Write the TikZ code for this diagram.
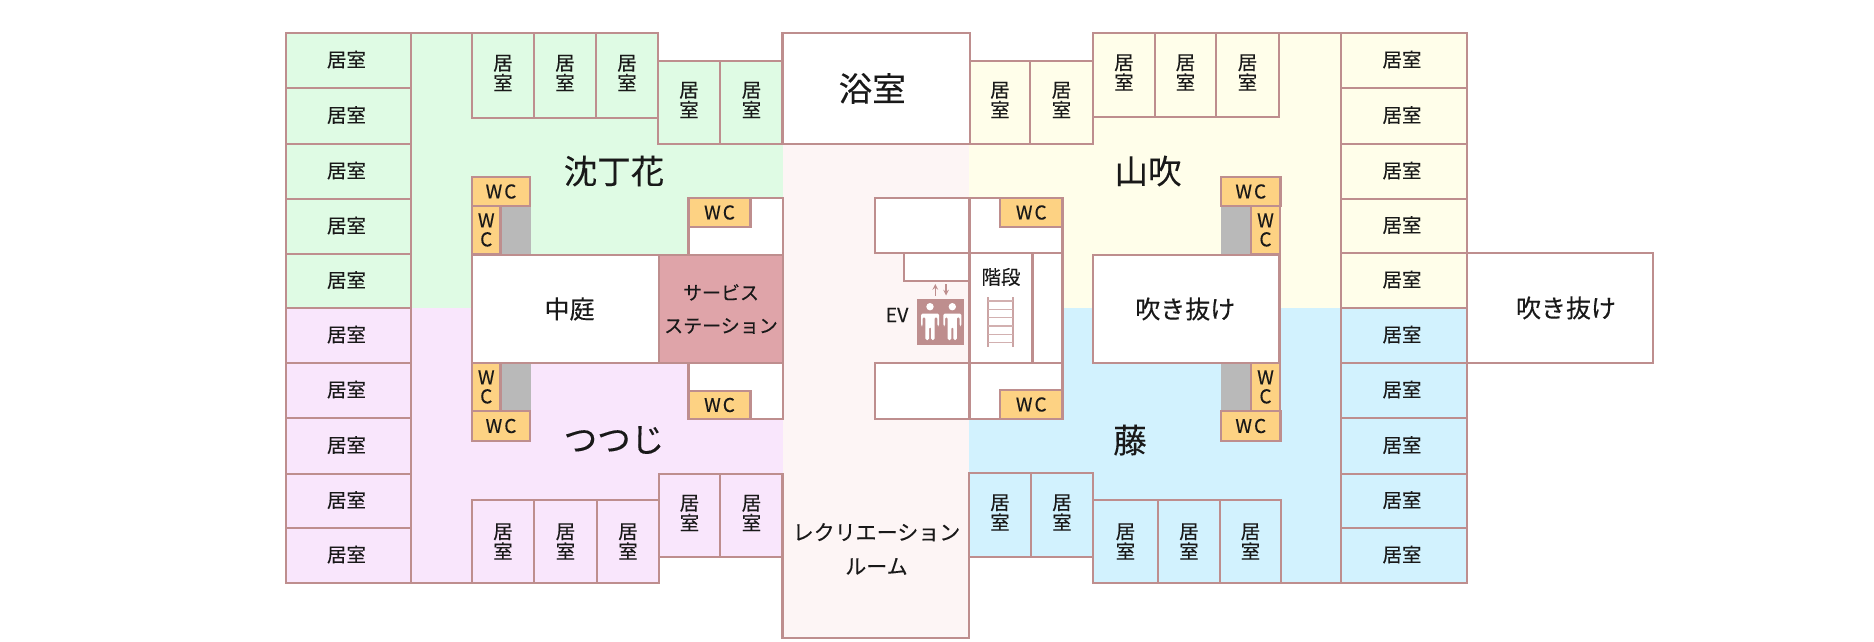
\documentclass[tikz,border=0pt]{standalone}
\usepackage{fontspec}
\newfontfamily\jpfont[FakeBold=0.25]{Noto Sans CJK JP}
\definecolor{wallcol}{HTML}{BE8E8E}
\definecolor{zonegreen}{HTML}{DFFBE4}
\definecolor{zonepurple}{HTML}{F9E6FC}
\definecolor{zoneyellow}{HTML}{FFFEEA}
\definecolor{zoneblue}{HTML}{D2F2FE}
\definecolor{zonepink}{HTML}{FDF5F5}
\definecolor{wcfill}{HTML}{FDD283}
\definecolor{stationfill}{HTML}{DFA4A9}
\definecolor{shaftgray}{HTML}{B9B9B9}
\newcommand{\liftman}[1]{
  \fill[white] (#1,306.7) circle (3.7);
  \fill[white,rounded corners=1.5pt] (#1-9,313.5) -- (#1+9,313.5) -- (#1+9,326) -- (#1+7.3,326) -- (#1+7.3,317)
    -- (#1+4.6,317) -- (#1+4.6,340) -- (#1+1,340) -- (#1+1,327) -- (#1-1,327) -- (#1-1,340) -- (#1-4.6,340)
    -- (#1-4.6,317) -- (#1-7.3,317) -- (#1-7.3,326) -- (#1-9,326) -- cycle;
}
\begin{document}
\begin{tikzpicture}[
  x=1pt,y=-1pt,
  every node/.style={inner sep=0pt,text=black!90,align=center},
  wall/.style={draw=wallcol,line width=2.8pt,line join=miter},
  white room/.style={wall,fill=white},
  wc/.style={wall,fill=wcfill},
  roomtext/.style={font=\jpfont\fontsize{19.5}{20}\selectfont},
  wctext/.style={font=\jpfont\fontsize{19}{19}\selectfont},
  midtext/.style={font=\jpfont\fontsize{19}{19}\selectfont},
  rectext/.style={font=\jpfont\fontsize{21}{21}\selectfont},
  areatext/.style={font=\jpfont\fontsize{25}{25}\selectfont},
  bigtext/.style={font=\jpfont\fontsize{33.5}{34}\selectfont},
  wingtext/.style={roomtext,xshift=-2pt,yshift=1pt},
  uptext/.style={roomtext,yshift=2.5pt}
  ]
  \useasboundingbox (0,0) rectangle (1874,642);

  % coloured floors
  \fill[zonegreen] (286,33) -- (658,33) -- (658,61) -- (784,61) -- (784,308) -- (286,308) -- cycle;
  \fill[zonepurple] (286,308) -- (784,308) -- (784,557) -- (659,557) -- (659,583) -- (286,583) -- cycle;
  \fill[zoneyellow] (969,61) -- (1093,61) -- (1093,33) -- (1467,33) -- (1467,308) -- (969,308) -- cycle;
  \fill[zoneblue] (969,308) -- (1467,308) -- (1467,583) -- (1093,583) -- (1093,557) -- (969,557) -- cycle;
  \fill[zonepink] (783,144) rectangle (969,638);

  % outer walls
  \draw[wall] (411,33) -- (472,33);
  \draw[wall] (411,583) -- (472,583);
  \draw[wall] (1279,33) -- (1341,33);
  \draw[wall] (1279,583) -- (1341,583);

  % left wing rooms
  \draw[wall] (286,33) rectangle node[wingtext] (G1) {居室} (411,88);
  \draw[wall] (286,88) rectangle node[wingtext] (G2) {居室} (411,144);
  \draw[wall] (286,144) rectangle node[wingtext] (G3) {居室} (411,199);
  \draw[wall] (286,199) rectangle node[wingtext] (G4) {居室} (411,254);
  \draw[wall] (286,254) rectangle node[wingtext] (G5) {居室} (411,308);
  \draw[wall] (286,308) rectangle node[wingtext] (P1) {居室} (411,363);
  \draw[wall] (286,363) rectangle node[wingtext] (P2) {居室} (411,418);
  \draw[wall] (286,418) rectangle node[wingtext] (P3) {居室} (411,474);
  \draw[wall] (286,474) rectangle node[wingtext] (P4) {居室} (411,528);
  \draw[wall] (286,528) rectangle node[wingtext] (P5) {居室} (411,583);

  % north-west rooms
  \draw[wall] (472,33) rectangle node[uptext] (G6) {居\\室} (534,118);
  \draw[wall] (534,33) rectangle node[uptext] (G7) {居\\室} (596,118);
  \draw[wall] (596,33) rectangle node[uptext] (G8) {居\\室} (658,118);
  \draw[wall] (658,61) rectangle node[uptext] (G9) {居\\室} (720,144);
  \draw[wall] (720,61) rectangle node[uptext] (G10) {居\\室} (783,144);

  % south-west rooms
  \draw[wall] (472,500) rectangle node[roomtext] (P6) {居\\室} (534,583);
  \draw[wall] (534,500) rectangle node[roomtext] (P7) {居\\室} (597,583);
  \draw[wall] (597,500) rectangle node[roomtext] (P8) {居\\室} (659,583);
  \draw[wall] (659,474) rectangle node[uptext] (P9) {居\\室} (720,557);
  \draw[wall] (720,474) rectangle node[uptext] (P10) {居\\室} (783,557);

  % north-east rooms
  \draw[wall] (970,61) rectangle node[uptext] (Y6) {居\\室} (1030,144);
  \draw[wall] (1030,61) rectangle node[uptext] (Y7) {居\\室} (1093,144);
  \draw[wall] (1093,33) rectangle node[uptext] (Y8) {居\\室} (1155,117);
  \draw[wall] (1155,33) rectangle node[uptext] (Y9) {居\\室} (1216,117);
  \draw[wall] (1216,33) rectangle node[uptext] (Y10) {居\\室} (1279,117);

  % south-east rooms
  \draw[wall] (969,473) rectangle node[uptext] (B6) {居\\室} (1031,557);
  \draw[wall] (1031,473) rectangle node[uptext] (B7) {居\\室} (1093,557);
  \draw[wall] (1093,500) rectangle node[roomtext] (B8) {居\\室} (1158,583);
  \draw[wall] (1158,500) rectangle node[roomtext] (B9) {居\\室} (1220,583);
  \draw[wall] (1220,500) rectangle node[roomtext] (B10) {居\\室} (1281,583);

  % right wing rooms
  \draw[wall] (1341,33) rectangle node[wingtext] (Y1) {居室} (1467,88);
  \draw[wall] (1341,88) rectangle node[wingtext] (Y2) {居室} (1467,144);
  \draw[wall] (1341,144) rectangle node[wingtext] (Y3) {居室} (1467,199);
  \draw[wall] (1341,199) rectangle node[wingtext] (Y4) {居室} (1467,253);
  \draw[wall] (1341,253) rectangle node[wingtext] (Y5) {居室} (1467,308);
  \draw[wall] (1341,308) rectangle node[wingtext] (B1) {居室} (1467,363);
  \draw[wall] (1341,363) rectangle node[wingtext] (B2) {居室} (1467,418);
  \draw[wall] (1341,418) rectangle node[wingtext] (B3) {居室} (1467,474);
  \draw[wall] (1341,474) rectangle node[wingtext] (B4) {居室} (1467,528);
  \draw[wall] (1341,528) rectangle node[wingtext] (B5) {居室} (1467,583);

  % centre block
  \draw[white room] (782.5,33) rectangle node[bigtext,xshift=-4pt] (bath) {浴室} (970,144);
  \draw[wall] (782.5,474) -- (782.5,638) -- (969,638) -- (969,474);
  \node[rectext] (rec) at (876.5,549) {レクリエーション\\[13pt]ルーム};

  % courtyard side
  \fill[shaftgray] (500,206) rectangle (531,254);
  \fill[shaftgray] (500,363) rectangle (531,411);
  \draw[white room] (688.5,198) rectangle (783,255);
  \draw[white room] (688.5,363) rectangle (783,419);
  \draw[white room] (472,255) rectangle node[areatext,xshift=4pt] (court) {中庭} (659,363);
  \draw[wall,fill=stationfill] (659,255) rectangle node[midtext] (station) {サービス\\[14pt]ステーション} (783,363);
  \draw[wc] (472,177) rectangle node[wctext] (wcA) {W\kern2pt C} (530,206);
  \draw[wc] (472,206) rectangle node[wctext] (wcB) {W\\C} (500.5,254);
  \draw[wc] (688.5,198) rectangle node[wctext] (wcC) {W\kern2pt C} (750.5,227);
  \draw[wc] (472,363) rectangle node[wctext] (wcD) {W\\C} (500.5,411);
  \draw[wc] (472,411) rectangle node[wctext] (wcE) {W\kern2pt C} (530,441);
  \draw[wc] (688.5,391) rectangle node[wctext] (wcF) {W\kern2pt C} (750.5,419);

  % lift and stair core
  \draw[white room] (875,198) rectangle (969.5,253);
  \draw[white room] (969.5,198) rectangle (1062.5,253);
  \draw[white room] (904,253) rectangle (969.5,281);
  \draw[white room] (969.5,253) rectangle (1032.5,363);
  \draw[white room] (1032.5,253) rectangle (1062.5,363);
  \draw[white room] (875,363) rectangle (969.5,419);
  \draw[white room] (969.5,363) rectangle (1062.5,419);
  \draw[wc] (1000,198) rectangle node[wctext] (wcG) {W\kern2pt C} (1062.5,227);
  \draw[wc] (1000,390) rectangle node[wctext] (wcH) {W\kern2pt C} (1062.5,419);
  \node[roomtext] (stairs) at (1001,277) {階段};
  \node[roomtext] (ev) at (897,315) {EV};
  \draw[wallcol!80,line width=1.4pt] (988,297) -- (988,347);
  \draw[wallcol!80,line width=1.4pt] (1013,297) -- (1013,347);
  \draw[wallcol!70,line width=1.1pt] (988,301) -- (1013,301);
  \draw[wallcol!70,line width=1.1pt] (988,309.3) -- (1013,309.3);
  \draw[wallcol!70,line width=1.1pt] (988,317.7) -- (1013,317.7);
  \draw[wallcol!70,line width=1.1pt] (988,326) -- (1013,326);
  \draw[wallcol!70,line width=1.1pt] (988,334.3) -- (1013,334.3);
  \draw[wallcol!70,line width=1.1pt] (988,342.7) -- (1013,342.7);
  \fill[wallcol] (917,299) rectangle (964,345);
  \liftman{930}
  \liftman{952.3}
  \draw[wallcol,line width=1.5pt,->,>=stealth] (935.3,295.5) -- (935.3,284);
  \draw[wallcol,line width=1.5pt,->,>=stealth] (946,284) -- (946,295.5);

  % atria on the right
  \fill[shaftgray] (1221,206) rectangle (1251,254);
  \fill[shaftgray] (1221,363) rectangle (1251,411);
  \draw[white room] (1093,255) rectangle node[areatext,xshift=-1pt] (atriumA) {吹き抜け} (1279.5,363);
  \draw[white room] (1467,253) rectangle node[areatext,xshift=6pt] (atriumB) {吹き抜け} (1653,363);
  \draw[wc] (1221,177) rectangle node[wctext] (wcI) {W\kern2pt C} (1280.5,206);
  \draw[wc] (1251,206) rectangle node[wctext] (wcJ) {W\\C} (1280,254);
  \draw[wc] (1251,363) rectangle node[wctext] (wcK) {W\\C} (1280,411);
  \draw[wc] (1221,411) rectangle node[wctext] (wcL) {W\kern2pt C} (1280.5,441);

  % ward names
  \node[bigtext] (chinchoge) at (614,171) {沈丁花};
  \node[bigtext] (tsutsuji) at (614,440) {つつじ};
  \node[bigtext] (yamabuki) at (1148,171) {山吹};
  \node[bigtext] (fuji) at (1130,440) {藤};
\end{tikzpicture}
\end{document}
